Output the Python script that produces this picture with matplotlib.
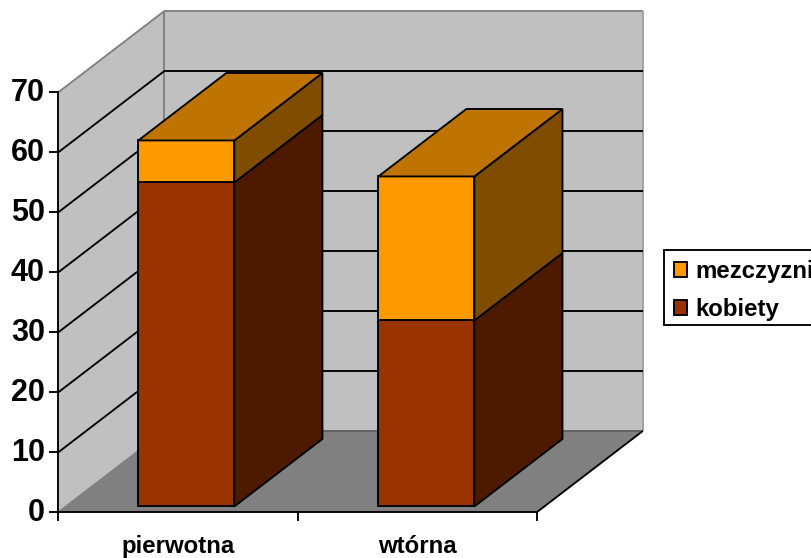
import matplotlib
matplotlib.use("Agg")
import matplotlib.pyplot as plt
from matplotlib.patches import Patch, Polygon, Rectangle
from matplotlib.transforms import ScaledTranslation

plt.rcParams["font.family"] = ["Liberation Sans", "DejaVu Sans"]
plt.rcParams["font.weight"] = "bold"

# --- data ---
categories = ["pierwotna", "wtórna"]
kobiety = [54, 31]
mezczyzni = [7, 24]
y_ticks = [0, 10, 20, 30, 40, 50, 60, 70]

# --- 3D look: how far one unit of depth shifts things on the axes ---
DEPTH_X = 106 / 239
DEPTH_Y = 81.3 / 6
BAR_WIDTH = 96 / 239
BAR_SHIFT = 0.0033
BAR_STEP = 1.0035
BAR_NEAR = 0.072
BAR_FAR = 0.902
YMAX = 70
XMAX = len(categories)

WALL = "#C0C0C0"
FLOOR = "#808080"
EDGE_GRAY = "#808080"
LW = 1.35

W, H = 812, 558
fig = plt.figure(figsize=(W / 100, H / 100), dpi=100)
ax = fig.add_axes([58.3 / W, (H - 512.3) / H, 478.4 / W, 420 / H])
ax.set_xlim(0, XMAX)
ax.set_ylim(0, YMAX)
ax.patch.set_visible(False)


def proj(x, v, d):
    return (x + d * DEPTH_X, v + d * DEPTH_Y)


def face(points, color, z, edge="black", lw=LW):
    ax.add_patch(Polygon(points, closed=True, facecolor=color, edgecolor=edge,
                         linewidth=lw, clip_on=False, zorder=z, joinstyle="miter"))


def line(p1, p2, color, z, lw=LW):
    ax.plot([p1[0], p2[0]], [p1[1], p2[1]], color=color, lw=lw,
            clip_on=False, zorder=z, solid_capstyle="butt")


# walls and floor
face([proj(0, 0, 0), proj(0, 0, 1), proj(0, YMAX, 1), proj(0, YMAX, 0)], WALL, 1, edge="none")
face([proj(0, 0, 1), proj(XMAX, 0, 1), proj(XMAX, YMAX, 1), proj(0, YMAX, 1)], WALL, 1, edge="none")
face([proj(0, 0, 0), proj(XMAX, 0, 0), proj(XMAX, 0, 1), proj(0, 0, 1)], FLOOR, 1, edge="none")

line(proj(0, YMAX, 0), proj(0, YMAX, 1), EDGE_GRAY, 2)
line(proj(0, YMAX, 1), proj(XMAX, YMAX, 1), EDGE_GRAY, 2)
line(proj(0, 0, 1), proj(0, YMAX, 1), EDGE_GRAY, 2)
line(proj(XMAX, 0, 1), proj(XMAX, YMAX, 1), "#A0A0A0", 2)
line(proj(0, 0, 0), proj(0, 0, 1), EDGE_GRAY, 2)
line(proj(0, 0, 1), proj(XMAX, 0, 1), "#606060", 2)
line(proj(XMAX, 0, 0), proj(XMAX, 0, 1), "black", 2)

# gridlines run along the side wall and across the back wall
for v in y_ticks[1:-1]:
    line(proj(0, v, 0), proj(0, v, 1), "black", 3)
    line(proj(0, v, 1), proj(XMAX, v, 1), "black", 3)


def draw_box(x, v0, v1, front, side, top, z):
    xl, xr = x - BAR_WIDTH / 2 + BAR_SHIFT, x + BAR_WIDTH / 2 + BAR_SHIFT
    n, f = BAR_NEAR, BAR_FAR
    face([proj(xl, v0, n), proj(xr, v0, n), proj(xr, v1, n), proj(xl, v1, n)], front, z)
    face([proj(xr, v0, n), proj(xr, v0, f), proj(xr, v1, f), proj(xr, v1, n)], side, z)
    if top:
        face([proj(xl, v1, n), proj(xr, v1, n), proj(xr, v1, f), proj(xl, v1, f)], top, z)


# stacked boxes, kobiety at the bottom
for i in range(len(categories)):
    x = 0.5 + i * BAR_STEP
    draw_box(x, 0, kobiety[i], "#993300", "#4D1A00", None, 5)
    draw_box(x, kobiety[i], kobiety[i] + mezczyzni[i], "#FF9900", "#804D00", "#BF7300", 6)

# axes
for s in ["top", "right"]:
    ax.spines[s].set_visible(False)
for s in ["left", "bottom"]:
    ax.spines[s].set_linewidth(LW)
    ax.spines[s].set_zorder(4)

ax.set_yticks(y_ticks)
ax.tick_params(axis="y", labelsize=22, length=6.5, width=LW, pad=3.2)
ax.set_xticks(range(XMAX + 1))
ax.set_xticklabels([])
ax.set_xticks([i + 0.5 for i in range(XMAX)], minor=True)
ax.set_xticklabels(categories, minor=True, fontsize=17.3)
ax.tick_params(axis="x", which="major", length=6.5, width=LW)
ax.tick_params(axis="x", which="minor", length=0, pad=16.5)

# the value labels sit a little above their ticks
lift = ScaledTranslation(0, 2 / 72, fig.dpi_scale_trans)
for lab in ax.get_yticklabels():
    lab.set_transform(lab.get_transform() + lift)

# legend box is drawn separately, it runs off the right edge of the figure
fig.add_artist(Rectangle((664 / W, (H - 325) / H), 170 / W, 75 / H, transform=fig.transFigure,
                         facecolor="white", edgecolor="black", linewidth=LW))
handles = [Patch(facecolor="#FF9900", edgecolor="black", linewidth=LW),
           Patch(facecolor="#993300", edgecolor="black", linewidth=LW)]
leg = fig.legend(handles, ["mezczyzni", "kobiety"], loc="upper left",
                 bbox_to_anchor=(664 / W, (H - 250) / H), bbox_transform=fig.transFigure,
                 fontsize=17.3, frameon=False, handlelength=0.54, handleheight=0.62,
                 handletextpad=0.33, labelspacing=0.62, borderpad=0.42, borderaxespad=0)

fig.savefig("out.png", dpi=100)
